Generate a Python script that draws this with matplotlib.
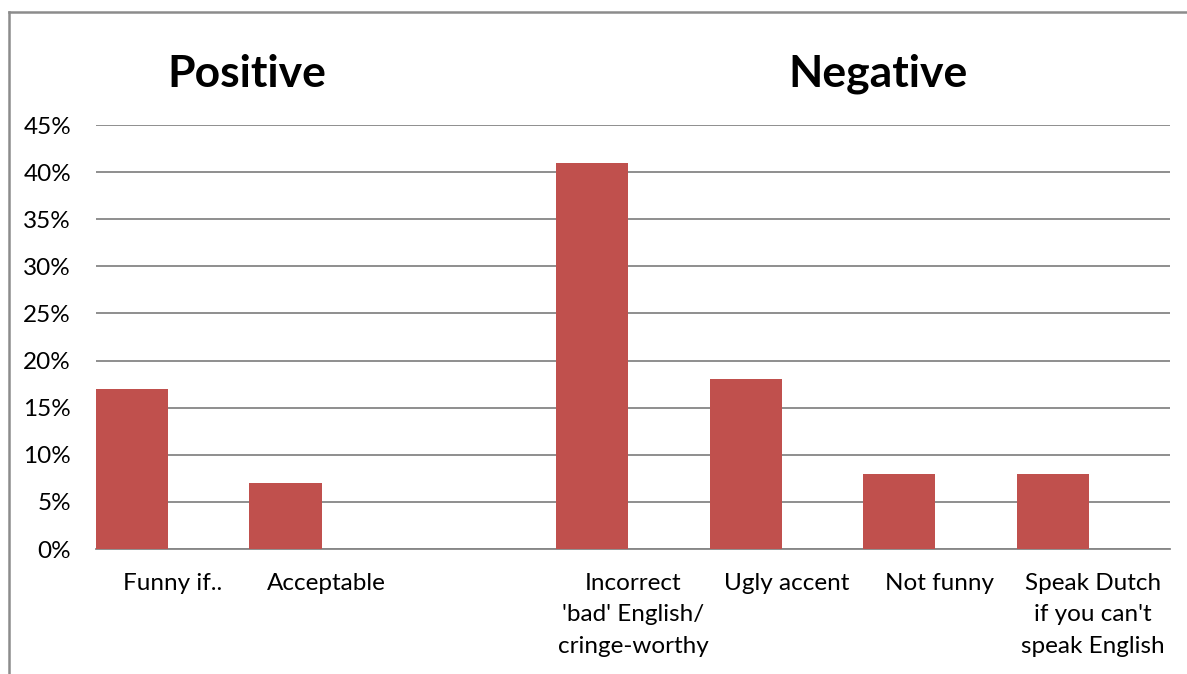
import matplotlib
matplotlib.use("Agg")
import matplotlib.pyplot as plt
from matplotlib.lines import Line2D
from matplotlib.ticker import FuncFormatter
import matplotlib.transforms as mtransforms

categories = ["Funny if..", "Acceptable", "",
              "Incorrect\n'bad' English/\ncringe-worthy", "Ugly accent",
              "Not funny", "Speak Dutch\nif you can't\nspeak English"]
values = [17, 7, 0, 41, 18, 8, 8]
yticks = [0, 5, 10, 15, 20, 25, 30, 35, 40, 45]
group_titles = ["Positive", "Negative"]
group_title_pos = [0.48, 4.6]

W, H = 1187, 674
fig = plt.figure(figsize=(W / 100, H / 100), dpi=100)
plt.rcParams["font.family"] = ["Lato", "DejaVu Sans"]

ax = fig.add_axes([96 / W, 125 / H, (1170 - 96) / W, (549 - 125) / H])

xs = list(range(len(categories)))
ax.bar([x - 0.5 for x in xs], values, width=0.47, align="edge",
       color="#C0504D", zorder=3)

ax.set_xlim(-0.5, len(categories) - 0.5)
ax.set_ylim(0, 45)
ax.set_yticks(yticks)
ax.yaxis.set_major_formatter(FuncFormatter(lambda v, p: f"{v:.0f}%"))
ax.set_xticks(xs)
ax.set_xticklabels(categories, fontsize=17.5, linespacing=1.62)
ax.tick_params(axis="x", length=0, pad=17)
ax.tick_params(axis="y", length=0, pad=18, labelsize=17.5)

ax.grid(axis="y", color="#868686", linewidth=1.3, zorder=0)
for side in ("left", "right", "top"):
    ax.spines[side].set_visible(False)
ax.spines["bottom"].set_color("#868686")
ax.spines["bottom"].set_linewidth(1.3)

trans = mtransforms.blended_transform_factory(ax.transData, fig.transFigure)
for t, xp in zip(group_titles, group_title_pos):
    ax.text(xp, 1 - 87 / H, t, transform=trans, ha="center", va="baseline",
            fontsize=32, fontweight="bold", color="black")

# outer chart frame
frame_kw = dict(color="#8C8C8C", linewidth=1.8, transform=fig.transFigure)
fig.add_artist(Line2D([9 / W, 9 / W], [0, 1 - 12 / H], **frame_kw))
fig.add_artist(Line2D([9 / W, 1], [1 - 12 / H, 1 - 12 / H], **frame_kw))

fig.savefig("out.png", dpi=100, facecolor="white")
